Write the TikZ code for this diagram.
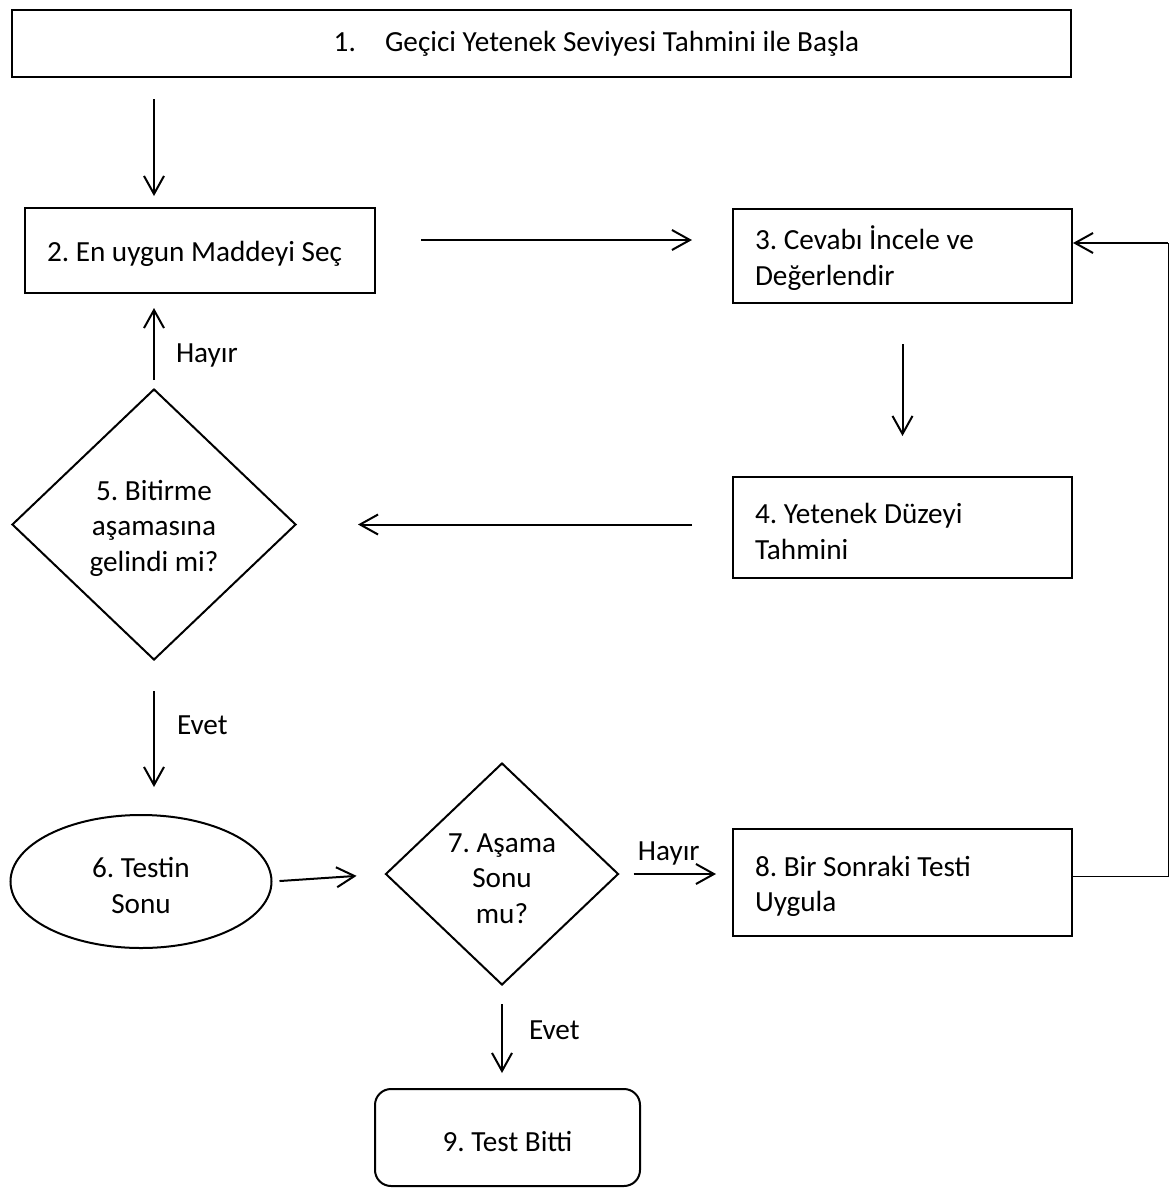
\documentclass[tikz,border=0pt]{standalone}
\usepackage{fontspec}
\setmainfont{Carlito}
\usetikzlibrary{arrows.meta,shapes.geometric}
\frenchspacing
\newcommand{\upgap}{\rule{0pt}{14pt}}

\begin{document}
\begin{tikzpicture}[
  x=0.5pt,y=-0.5pt,
  font=\fontsize{14.6pt}{17.8pt}\selectfont,
  box/.style={draw,line width=1pt,inner xsep=11pt,inner ysep=0pt,align=flush left},
  cond/.style={draw,shape=diamond,line width=1pt,inner sep=0pt,align=center},
  term/.style={draw,shape=ellipse,line width=1pt,inner sep=0pt,align=center},
  endbox/.style={draw,line width=1pt,rounded corners=8pt,inner sep=0pt,align=center},
  arr/.style={-{Straight Barb[length=9pt,width=10pt]},line width=1pt},
  fbline/.style={line width=0.5pt},
  lbl/.style={inner sep=0pt}
]
\useasboundingbox (0,0) rectangle (1171,1189);
% ---------- steps ----------
\node[draw,line width=1pt,minimum width=529.5pt,minimum height=33.5pt,inner sep=0pt] (start) at (541.5,43.5)
  {\hspace*{55pt}1.\hspace{1em}Geçici Yetenek Seviyesi Tahmini ile Başla};
\node[box,text width=153pt,minimum height=42.5pt] (select) at (200,250.5) {\upgap 2. En uygun Maddeyi Seç};
\node[box,text width=147.5pt,minimum height=47pt] (check) at (902.5,256) {\upgap 3. Cevabı İncele ve\\Değerlendir};
\node[box,text width=147.5pt,minimum height=50.5pt] (estim) at (902.5,527.5) {\upgap 4. Yetenek Düzeyi\\Tahmini};
\node[cond,minimum width=142pt,minimum height=135.5pt] (stop) at (154,524.5) {\upgap 5. Bitirme\\aşamasına\\gelindi mi?};
\node[term,minimum width=130.5pt,minimum height=66.5pt] (testend) at (141,881.5) {\upgap 6. Testin\\Sonu};
\node[cond,minimum width=116.5pt,minimum height=111pt] (stage) at (502,874) {\upgap 7. Aşama\\Sonu\\mu?};
\node[box,text width=147.5pt,minimum height=53.5pt] (next) at (902.5,882.5) {\upgap 8. Bir Sonraki Testi\\Uygula};
\node[endbox,minimum width=132.5pt,minimum height=48.5pt] (done) at (507.5,1137.5) {\upgap 9. Test Bitti};
% ---------- connectors ----------
\draw[arr,shorten <=10.5pt,shorten >=5.5pt] (start.south -| stop.north) -- (select.north -| stop.north);
\draw[arr,shorten <=22.5pt,shorten >=20pt] ([yshift=5.25pt]select.east) -- ([yshift=5.25pt]select.east -| check.west);
\draw[arr,shorten <=20pt,shorten >=20pt] (check) -- (estim);
\draw[arr,shorten <=20pt,shorten >=30.5pt] (stop.east -| estim.west) -- (stop.east);
\draw[arr,shorten <=4pt,shorten >=7pt] (stop.north) --
  node[lbl,pos=0.35,anchor=west,xshift=10.5pt]{Hayır} (stop.north |- select.south);
\draw[arr,shorten <=15pt,shorten >=13.5pt] (stop.south) --
  node[lbl,pos=0.42,anchor=west,xshift=11pt]{Evet} (stop.south |- testend.north);
\draw[arr,shorten <=3.5pt,shorten >=14pt] (testend.east) -- (stage.west);
\draw[arr,shorten <=7pt,shorten >=8pt] (stage.east) --
  node[lbl,anchor=south,yshift=4pt,xshift=-3.5pt]{Hayır} (stage.east -| next.west);
\draw[arr,shorten <=9pt,shorten >=7.5pt] (stage.south) --
  node[lbl,pos=0.43,anchor=west,xshift=13pt]{Evet} (stage.south |- done.north);
% back to step 3
\coordinate (fbdown) at (1168,876);
\coordinate (fbup) at (1168,243);
\draw[fbline] (next.east |- fbdown) -- (fbdown) -- (fbup);
\draw[arr] (fbup) -- (check.east |- fbup);
\end{tikzpicture}
\end{document}
